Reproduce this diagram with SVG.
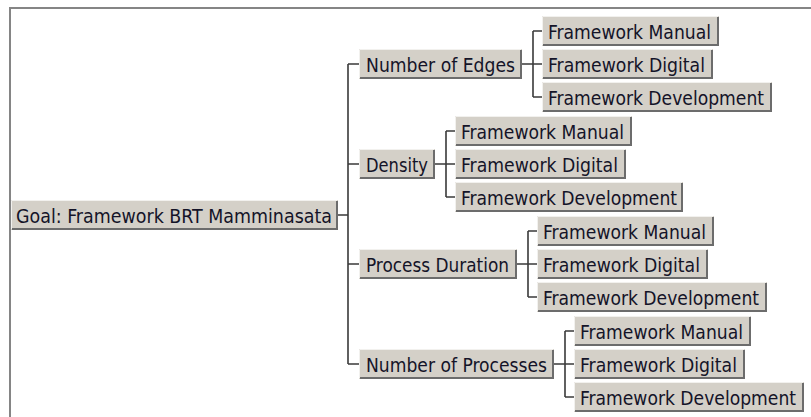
<svg xmlns="http://www.w3.org/2000/svg" width="811" height="417" viewBox="0 0 811 417">
<style>
.bg{fill:#ffffff}
.frame{fill:none;stroke:#858585;stroke-width:2}
.box{fill:#d4d0c8}
.hi{fill:none;stroke:#f2f1ee;stroke-width:1}
.sh{fill:none;stroke:#6c6c6c;stroke-width:2}
.lbl{font-family:"DejaVu Sans Condensed","DejaVu Sans",Verdana,sans-serif;font-size:19px;fill:#141428}
.conn{fill:none;stroke:#3a3a3a;stroke-width:1.6}
</style>
<rect class="bg" x="0" y="0" width="811" height="417"/>
<rect class="frame" x="10" y="8" width="830" height="440"/>

<g id="connectors">
  <path class="conn" d="M338 215H348M348 64V364M348 64H359M348 164H359M348 264H359M348 364H359"/>
  <path class="conn" d="M522 64H542M533 31V97M533 31H542M533 97H542"/>
  <path class="conn" d="M435 164H455M446 131V197M446 131H455M446 197H455"/>
  <path class="conn" d="M517 264H537M528 231V297M528 231H537M528 297H537"/>
  <path class="conn" d="M554 364H574M565 331V397M565 331H574M565 397H574"/>
</g>

<g id="goal"><rect class="box" x="11" y="200" width="327" height="30"/><path class="hi" d="M11.5 229V200.5H337"/><path class="sh" d="M12 229H337V201"/><text class="lbl" x="16" y="223" textLength="316" lengthAdjust="spacingAndGlyphs">Goal: Framework BRT Mamminasata</text></g>

<g id="edges"><rect class="box" x="359" y="49" width="163" height="30"/><path class="hi" d="M359.5 78V49.5H521"/><path class="sh" d="M360 78H521V50"/><text class="lbl" x="366" y="72" textLength="149" lengthAdjust="spacingAndGlyphs">Number of Edges</text></g>
<g id="edges-manual"><rect class="box" x="542" y="16" width="177" height="30"/><path class="hi" d="M542.5 45V16.5H718"/><path class="sh" d="M543 45H718V17"/><text class="lbl" x="548" y="39" textLength="163" lengthAdjust="spacingAndGlyphs">Framework Manual</text></g>
<g id="edges-digital"><rect class="box" x="542" y="49" width="171" height="30"/><path class="hi" d="M542.5 78V49.5H712"/><path class="sh" d="M543 78H712V50"/><text class="lbl" x="548" y="72" textLength="157" lengthAdjust="spacingAndGlyphs">Framework Digital</text></g>
<g id="edges-development"><rect class="box" x="542" y="82" width="230" height="30"/><path class="hi" d="M542.5 111V82.5H771"/><path class="sh" d="M543 111H771V83"/><text class="lbl" x="548" y="105" textLength="216" lengthAdjust="spacingAndGlyphs">Framework Development</text></g>

<g id="density"><rect class="box" x="359" y="149" width="76" height="30"/><path class="hi" d="M359.5 178V149.5H434"/><path class="sh" d="M360 178H434V150"/><text class="lbl" x="366" y="172" textLength="62" lengthAdjust="spacingAndGlyphs">Density</text></g>
<g id="density-manual"><rect class="box" x="455" y="116" width="177" height="30"/><path class="hi" d="M455.5 145V116.5H631"/><path class="sh" d="M456 145H631V117"/><text class="lbl" x="461" y="139" textLength="163" lengthAdjust="spacingAndGlyphs">Framework Manual</text></g>
<g id="density-digital"><rect class="box" x="455" y="149" width="171" height="30"/><path class="hi" d="M455.5 178V149.5H625"/><path class="sh" d="M456 178H625V150"/><text class="lbl" x="461" y="172" textLength="157" lengthAdjust="spacingAndGlyphs">Framework Digital</text></g>
<g id="density-development"><rect class="box" x="455" y="182" width="228" height="30"/><path class="hi" d="M455.5 211V182.5H682"/><path class="sh" d="M456 211H682V183"/><text class="lbl" x="461" y="205" textLength="216" lengthAdjust="spacingAndGlyphs">Framework Development</text></g>

<g id="duration"><rect class="box" x="359" y="249" width="158" height="30"/><path class="hi" d="M359.5 278V249.5H516"/><path class="sh" d="M360 278H516V250"/><text class="lbl" x="366" y="272" textLength="143" lengthAdjust="spacingAndGlyphs">Process Duration</text></g>
<g id="duration-manual"><rect class="box" x="537" y="216" width="177" height="30"/><path class="hi" d="M537.5 245V216.5H713"/><path class="sh" d="M538 245H713V217"/><text class="lbl" x="543" y="239" textLength="163" lengthAdjust="spacingAndGlyphs">Framework Manual</text></g>
<g id="duration-digital"><rect class="box" x="537" y="249" width="171" height="30"/><path class="hi" d="M537.5 278V249.5H707"/><path class="sh" d="M538 278H707V250"/><text class="lbl" x="543" y="272" textLength="157" lengthAdjust="spacingAndGlyphs">Framework Digital</text></g>
<g id="duration-development"><rect class="box" x="537" y="282" width="230" height="30"/><path class="hi" d="M537.5 311V282.5H766"/><path class="sh" d="M538 311H766V283"/><text class="lbl" x="543" y="305" textLength="216" lengthAdjust="spacingAndGlyphs">Framework Development</text></g>

<g id="processes"><rect class="box" x="359" y="349" width="195" height="30"/><path class="hi" d="M359.5 378V349.5H553"/><path class="sh" d="M360 378H553V350"/><text class="lbl" x="366" y="372" textLength="181" lengthAdjust="spacingAndGlyphs">Number of Processes</text></g>
<g id="processes-manual"><rect class="box" x="574" y="316" width="177" height="30"/><path class="hi" d="M574.5 345V316.5H750"/><path class="sh" d="M575 345H750V317"/><text class="lbl" x="580" y="339" textLength="163" lengthAdjust="spacingAndGlyphs">Framework Manual</text></g>
<g id="processes-digital"><rect class="box" x="574" y="349" width="171" height="30"/><path class="hi" d="M574.5 378V349.5H744"/><path class="sh" d="M575 378H744V350"/><text class="lbl" x="580" y="372" textLength="157" lengthAdjust="spacingAndGlyphs">Framework Digital</text></g>
<g id="processes-development"><rect class="box" x="574" y="382" width="230" height="30"/><path class="hi" d="M574.5 411V382.5H803"/><path class="sh" d="M575 411H803V383"/><text class="lbl" x="580" y="405" textLength="216" lengthAdjust="spacingAndGlyphs">Framework Development</text></g>
</svg>
